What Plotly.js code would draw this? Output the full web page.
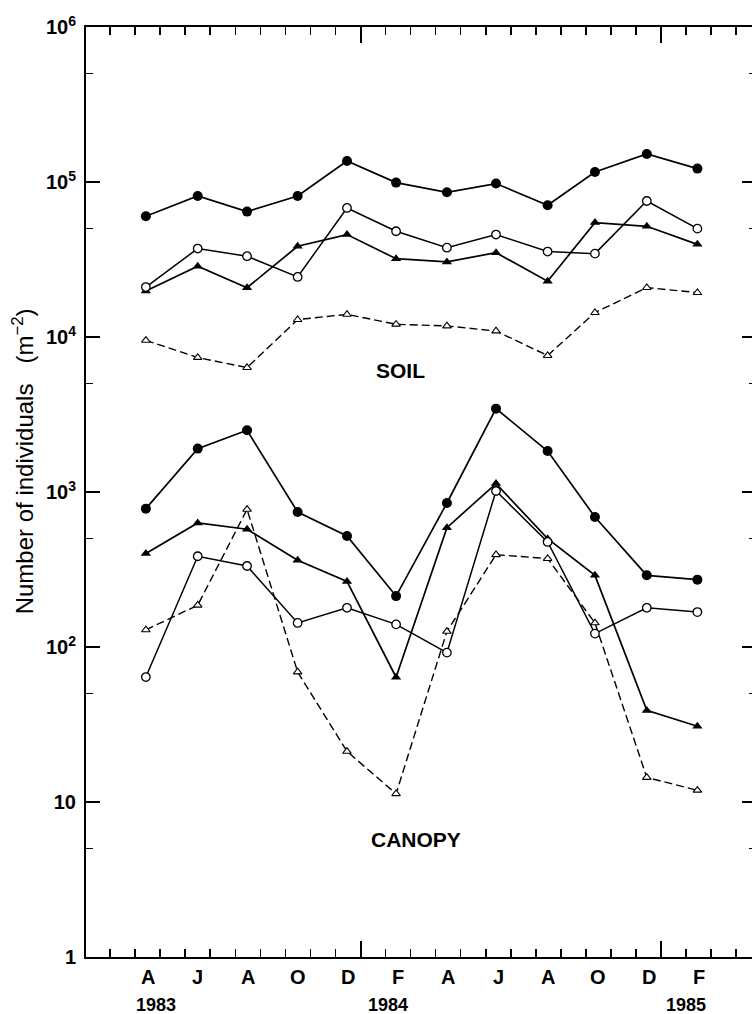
<!DOCTYPE html>
<html>
<head>
<meta charset="utf-8">
<script src="https://cdn.plot.ly/plotly-3.0.1.min.js"></script>
<style>
  html, body { margin: 0; padding: 0; background: #fff; overflow: hidden; }
  #chart { width: 760px; height: 1014px; }
</style>
</head>
<body>
<div id="chart"></div>
<script>
// Sampling times, in months since 1 Jan 1983
const sampleMonths = [3.43, 5.50, 7.47, 9.49, 11.46, 13.42, 15.45, 17.41, 19.47, 21.36, 23.43, 25.45];

// Month tick labels (centred on their month) and year labels
const monthLetters = ['A', 'J', 'A', 'O', 'D', 'F', 'A', 'J', 'A', 'O', 'D', 'F'];
const monthLabelPos = [3.5, 5.5, 7.5, 9.5, 11.5, 13.5, 15.5, 17.5, 19.5, 21.5, 23.5, 25.5];
const yearLabels = ['1983', '1984', '1985'];
const yearLabelPos = [3.82, 13.1, 25.0];

// Y axis tick labels
const yTickVals = [1, 10, 100, 1000, 10000, 100000, 1000000];
const yTickText = ['1', '10', '10<sup>2</sup>', '10<sup>3</sup>', '10<sup>4</sup>', '10<sup>5</sup>', '10<sup>6</sup>'];
const yMinorVals = [5, 50, 500, 5000, 50000, 500000];
const yTitle = 'Number of individuals\u00a0\u00a0 (m<sup>−2</sup>)';

// SOIL series (individuals per m2)
const soilFilledCircle = [60100, 81200, 64400, 81200, 136600, 99100, 85800, 97700, 70800, 116000, 151600, 122000];
const soilOpenCircle   = [21000, 37200, 33200, 24400, 68000, 48100, 37700, 45800, 35600, 34500, 75400, 50000];
const soilFilledTri    = [19800, 28600, 20800, 38500, 45800, 32000, 30500, 35000, 22900, 54700, 51800, 39600];
const soilOpenTri      = [9520, 7370, 6350, 12950, 14000, 12080, 11780, 10930, 7590, 14370, 20830, 19340];

// CANOPY series (individuals per m2)
const canopyFilledCircle = [781, 1905, 2500, 743, 520, 213, 849, 3450, 1839, 690, 290, 272];
const canopyFilledTri    = [401, 631, 575, 363, 265, 63.8, 589, 1133, 500, 290, 39.0, 30.8];
const canopyOpenCircle   = [64.0, 385, 333, 143, 179, 140, 92, 1015, 476, 122, 179, 168];
const canopyOpenTri      = [129, 186, 773, 69, 21.2, 11.3, 126, 394, 372, 143, 14.4, 11.9];

const FONT = 'Liberation Sans, Arial, Helvetica, sans-serif';

const styles = {
  filledCircle: { line: { color: '#000', width: 1.7 }, marker: { symbol: 'circle', size: 10, color: '#000', line: { color: '#000', width: 0 } } },
  openCircle:   { line: { color: '#000', width: 1.5 }, marker: { symbol: 'circle', size: 8.5, color: '#fff', line: { color: '#000', width: 1.3 } } },
  filledTri:    { line: { color: '#000', width: 1.7 }, marker: { symbol: 'triangle-up', size: 9, color: '#000', line: { color: '#000', width: 0 } } },
  openTri:      { line: { color: '#000', width: 1.4, dash: '8px,4px' }, marker: { symbol: 'triangle-up', size: 7.5, color: '#fff', line: { color: '#000', width: 1.1 } } }
};

function series(y, style) {
  return {
    type: 'scatter', mode: 'lines+markers',
    x: sampleMonths, y: y,
    line: style.line, marker: style.marker,
    xaxis: 'x', yaxis: 'y',
    showlegend: false, hoverinfo: 'x+y', cliponaxis: false
  };
}

const traces = [
  series(soilOpenTri, styles.openTri),
  series(soilFilledTri, styles.filledTri),
  series(soilOpenCircle, styles.openCircle),
  series(soilFilledCircle, styles.filledCircle),
  series(canopyOpenTri, styles.openTri),
  series(canopyFilledTri, styles.filledTri),
  series(canopyOpenCircle, styles.openCircle),
  series(canopyFilledCircle, styles.filledCircle)
];

const xRange = [1.04, 27.79];

const annotations = [
  { text: 'SOIL', x: 13.58, y: 3.785, xref: 'x', yref: 'y', showarrow: false,
    font: { family: FONT, size: 21, color: '#000', weight: 'bold' } },
  { text: 'CANOPY', x: 14.2, y: 0.761, xref: 'x', yref: 'y', showarrow: false,
    font: { family: FONT, size: 21, color: '#000', weight: 'bold' } },
  { text: yTitle, textangle: -90, x: -0.0948, y: 0.5335, xref: 'paper', yref: 'paper',
    xanchor: 'center', yanchor: 'middle', showarrow: false,
    font: { family: FONT, size: 24, color: '#000' } }
];
monthLetters.forEach((t, i) => {
  annotations.push({ text: t, x: monthLabelPos[i], y: -0.0215, xref: 'x', yref: 'paper',
    yanchor: 'middle', showarrow: false,
    font: { family: FONT, size: 20, color: '#000', weight: 'bold' } });
});
yearLabels.forEach((t, i) => {
  annotations.push({ text: t, x: yearLabelPos[i], y: -0.0518, xref: 'x', yref: 'paper',
    yanchor: 'middle', showarrow: false,
    font: { family: FONT, size: 18, color: '#000', weight: 'bold' } });
});

const layout = {
  width: 760, height: 1014,
  margin: { l: 86, r: 4, t: 27, b: 57 },
  paper_bgcolor: '#fff', plot_bgcolor: '#fff',
  showlegend: false,
  xaxis: {
    range: xRange, showgrid: false, zeroline: false,
    showline: true, linecolor: '#000', linewidth: 2, mirror: 'ticks',
    showticklabels: false,
    tickmode: 'array', tickvals: [12, 24],
    ticks: 'inside', ticklen: 16, tickwidth: 2, tickcolor: '#000',
    minor: { tick0: 0, dtick: 1, ticks: 'inside', ticklen: 8, tickwidth: 1.5, tickcolor: '#000', showgrid: false }
  },
  yaxis: {
    type: 'log', range: [0, 6],
    showgrid: false, zeroline: false,
    showline: true, linecolor: '#000', linewidth: 2, mirror: 'ticks',
    tickmode: 'array', tickvals: yTickVals, ticktext: yTickText,
    ticks: 'inside', ticklen: 14, tickwidth: 2, tickcolor: '#000',
    minor: { tickvals: yMinorVals, ticks: 'inside', ticklen: 7, tickwidth: 1.5, tickcolor: '#000', showgrid: false },
    tickfont: { family: FONT, size: 20, color: '#000', weight: 'bold' },
    ticklabelstandoff: 4
  },
  annotations: annotations
};

Plotly.newPlot('chart', traces, layout, { staticPlot: true, displayModeBar: false });
</script>
</body>
</html>
